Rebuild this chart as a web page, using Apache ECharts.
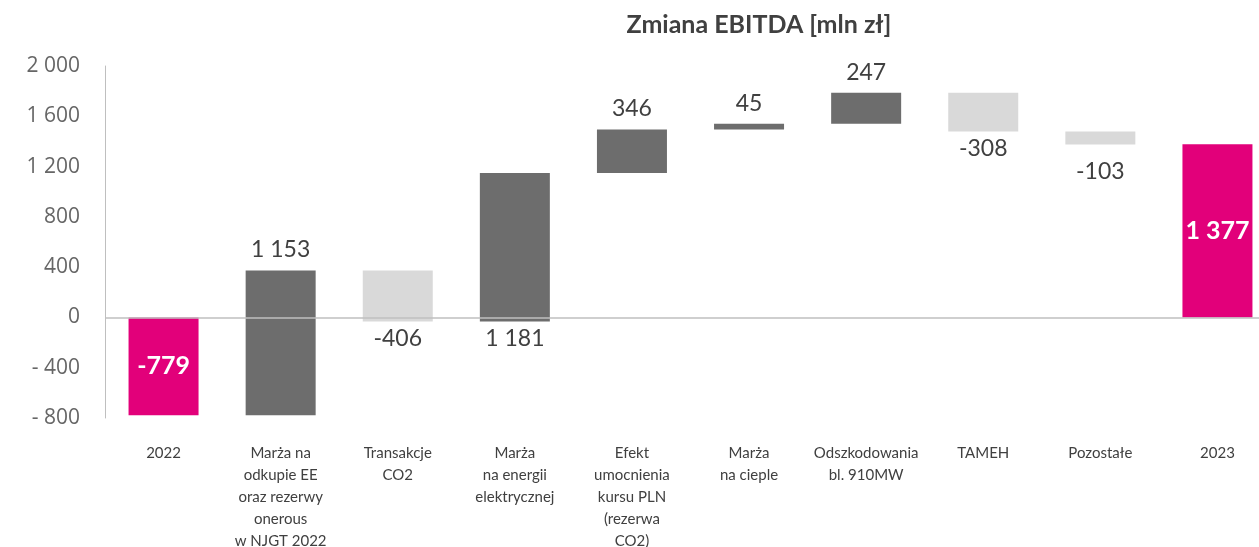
<!DOCTYPE html>
<html>
<head>
<meta charset="utf-8">
<script src="https://cdn.jsdelivr.net/npm/echarts@6/dist/echarts.min.js"></script>
<style>
  html, body { margin: 0; padding: 0; background: #fff; }
  #chart { width: 1259px; height: 547px; }
</style>
</head>
<body>
<div id="chart"></div>
<script>
const categories = [
  "2022",
  "Marża na\nodkupie EE\noraz rezerwy\nonerous\nw NJGT 2022",
  "Transakcje\nCO2",
  "Marża\nna energii\nelektrycznej",
  "Efekt\numocnienia\nkursu PLN\n(rezerwa\nCO2)",
  "Marża\nna cieple",
  "Odszkodowania\nbl. 910MW",
  "TAMEH",
  "Pozostałe",
  "2023",
];
const changes = [-779, 1153, -406, 1181, 346, 45, 247, -308, -103, 1377];
const yMin = -800;
const yMax = 2000;
const yStep = 400;

const PINK = "#E2007A";
const DARK = "#6D6D6D";
const LIGHT = "#D9D9D9";
const TEXT = "#404040";

const fmt = (v) =>
  (v < 0 ? "-" : "") + String(Math.abs(v)).replace(/\B(?=(\d{3})+(?!\d))/g, " ");

// waterfall: totals start at 0, steps start where the previous one ended
const lows = [];
const spans = [];
let running = 0;
changes.forEach((v, i) => {
  const isTotal = i === 0 || i === changes.length - 1;
  const start = isTotal ? 0 : running;
  const end = isTotal ? v : running + v;
  lows.push(Math.min(start, end));
  spans.push(Math.abs(end - start));
  running = end;
});

const spanData = spans.map((s, i) => {
  const v = changes[i];
  const isTotal = i === 0 || i === changes.length - 1;
  let color = v < 0 ? LIGHT : DARK;
  let label = { position: "top", distance: 9 };
  if (isTotal) {
    color = PINK;
    label = { position: "inside", color: "#fff", fontWeight: "bold", fontSize: 25 };
  } else if (v < 0 || i === 3) {
    label = { position: "bottom", distance: i === 8 ? 16 : 6 };
  }
  return { value: s, itemStyle: { color }, label };
});

const chart = echarts.init(document.getElementById("chart"));
chart.setOption({
  animation: false,
  title: {
    text: "Zmiana EBITDA [mln zł]",
    left: 754,
    textAlign: "center",
    top: 7,
    textStyle: { fontFamily: "Lato", fontSize: 25, fontWeight: "bold", color: TEXT },
  },
  grid: { left: 105, right: -17, top: 66, bottom: 129, outerBoundsMode: "none", containLabel: false },
  xAxis: {
    type: "category",
    data: categories,
    axisLine: { show: false, onZero: false },
    axisTick: { show: false },
    axisLabel: {
      interval: 0,
      margin: 24,
      fontFamily: "Lato",
      fontSize: 15,
      lineHeight: 22,
      color: TEXT,
      verticalAlign: "top",
    },
  },
  yAxis: {
    type: "value",
    min: yMin,
    max: yMax,
    interval: yStep,
    axisLine: { show: true, lineStyle: { color: "#BFBFBF", width: 1 } },
    axisTick: { show: false },
    splitLine: { show: false },
    axisLabel: {
      margin: 25,
      fontFamily: "Open Sans",
      fontSize: 21,
      color: "#666",
      formatter: (v) => (v < 0 ? "- " + fmt(-v) : fmt(v)),
    },
  },
  series: [
    {
      type: "bar",
      stack: "wf",
      stackStrategy: "all",
      barWidth: 70,
      itemStyle: { color: "transparent" },
      emphasis: { disabled: true },
      data: lows,
    },
    {
      type: "bar",
      stack: "wf",
      stackStrategy: "all",
      barWidth: 70,
      data: spanData,
      label: {
        show: true,
        fontFamily: "Lato",
        fontSize: 23,
        color: TEXT,
        formatter: (p) => fmt(changes[p.dataIndex]),
      },
      markLine: {
        silent: true,
        symbol: "none",
        label: { show: false },
        lineStyle: { color: "#BFBFBF", width: 1.5, type: "solid" },
        data: [{ yAxis: 0 }],
      },
    },
  ],
});
</script>
</body>
</html>
